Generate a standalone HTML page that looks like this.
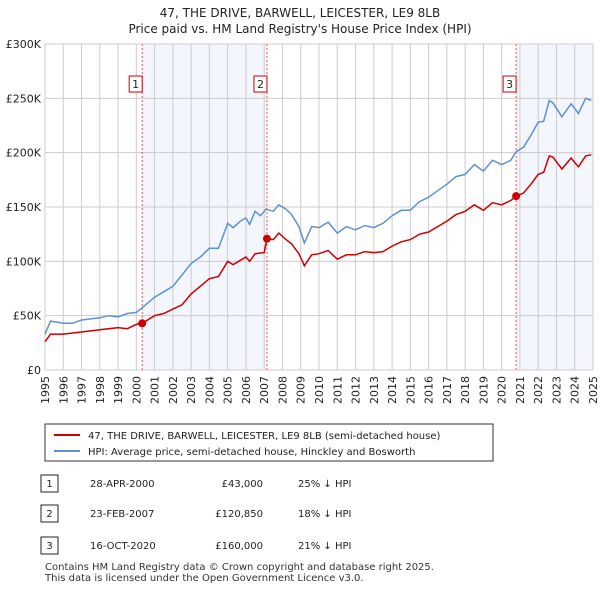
<!DOCTYPE html>
<html><head><meta charset="utf-8"><style>
body{margin:0;background:#fff;font-family:"Liberation Sans","DejaVu Sans",sans-serif;}
svg text{font-family:"DejaVu Sans","Liberation Sans",sans-serif;}
</style></head><body>
<svg id="c" width="600" height="590" viewBox="0 0 600 590" xmlns="http://www.w3.org/2000/svg">
<text x="300" y="17" text-anchor="middle" font-size="12" fill="#222">47, THE DRIVE, BARWELL, LEICESTER, LE9 8LB</text>
<text x="300" y="33" text-anchor="middle" font-size="12" fill="#222">Price paid vs. HM Land Registry's House Price Index (HPI)</text>
<g id="plot"></g>
<g>
<rect x="45" y="424" width="448" height="37" fill="#fff" stroke="#333" stroke-width="1"/>
<line x1="54" y1="435" x2="80" y2="435" stroke="#cc0000" stroke-width="2"/>
<text x="88" y="439" font-size="10" fill="#222">47, THE DRIVE, BARWELL, LEICESTER, LE9 8LB (semi-detached house)</text>
<line x1="54" y1="451" x2="80" y2="451" stroke="#6090d0" stroke-width="2"/>
<text x="88" y="455" font-size="10" fill="#222">HPI: Average price, semi-detached house, Hinckley and Bosworth</text>
</g>
<g font-size="10" fill="#222">
<rect x="41" y="475" width="17" height="17" fill="#fff" stroke="#222"/><text x="49.5" y="487" text-anchor="middle">1</text>
<text x="90" y="487">28-APR-2000</text><text x="263" y="487" text-anchor="end">£43,000</text><text x="298" y="487">25% ↓ HPI</text>
<rect x="41" y="505" width="17" height="17" fill="#fff" stroke="#222"/><text x="49.5" y="517" text-anchor="middle">2</text>
<text x="90" y="517">23-FEB-2007</text><text x="263" y="517" text-anchor="end">£120,850</text><text x="298" y="517">18% ↓ HPI</text>
<rect x="41" y="537" width="17" height="17" fill="#fff" stroke="#222"/><text x="49.5" y="549" text-anchor="middle">3</text>
<text x="90" y="549">16-OCT-2020</text><text x="263" y="549" text-anchor="end">£160,000</text><text x="298" y="549">21% ↓ HPI</text>
</g>
<text x="45" y="570" font-size="10" fill="#333">Contains HM Land Registry data © Crown copyright and database right 2025.</text>
<text x="45" y="581" font-size="10" fill="#333">This data is licensed under the Open Government Licence v3.0.</text>
</svg>
<script>
const yTicks=[0,50,100,150,200,250,300];
const yTickLabels=["£0","£50K","£100K","£150K","£200K","£250K","£300K"];
const years=[1995,1996,1997,1998,1999,2000,2001,2002,2003,2004,2005,2006,2007,2008,2009,2010,2011,2012,2013,2014,2015,2016,2017,2018,2019,2020,2021,2022,2023,2024,2025];
const hpiT=[1995,1995.3,1996,1996.5,1997,1998,1998.5,1999,1999.5,2000,2000.3,2001,2002,2003,2003.5,2004,2004.5,2005,2005.3,2005.7,2006,2006.2,2006.5,2006.8,2007.1,2007.5,2007.8,2008.2,2008.5,2008.9,2009.2,2009.6,2010,2010.5,2011,2011.5,2012,2012.5,2013,2013.5,2014,2014.5,2015,2015.5,2016,2016.5,2017,2017.5,2018,2018.5,2019,2019.5,2020,2020.5,2020.8,2021.2,2021.6,2022,2022.3,2022.6,2022.8,2023.3,2023.8,2024.2,2024.6,2024.9];
const hpiV=[33,45,43,43,46,48,50,49,52,53,57,67,77,98,104,112,112,135,131,137,140,134,146,142,148,146,152,148,143,132,117,132,131,136,126,132,129,133,131,135,142,147,147,155,159,165,171,178,180,189,183,193,189,193,201,205,216,228,229,248,246,233,245,236,250,248];
const priceT=[1995,1995.3,1996,1997,1998,1999,1999.5,2000,2000.32,2001,2001.5,2002,2002.5,2003,2003.5,2004,2004.5,2005,2005.3,2005.7,2006,2006.2,2006.5,2007.0,2007.15,2007.5,2007.8,2008.2,2008.5,2008.9,2009.2,2009.6,2010,2010.5,2011,2011.5,2012,2012.5,2013,2013.5,2014,2014.5,2015,2015.5,2016,2016.5,2017,2017.5,2018,2018.5,2019,2019.5,2020,2020.5,2020.8,2021.2,2021.6,2022,2022.3,2022.6,2022.8,2023.3,2023.8,2024.2,2024.6,2024.9];
const priceV=[26,33,33,35,37,39,38,42,43,50,52,56,60,70,77,84,86,100,97,101,104,100,107,108,120.85,120,126,120,116,107,96,106,107,110,102,106,106,109,108,109,114,118,120,125,127,132,137,143,146,152,147,154,152,156,160,163,171,180,182,197,196,185,195,187,197,198];
const saleT=[2000.32,2007.15,2020.79];
const saleV=[43,120.85,160];
const saleLabels=["1","2","3"];
const X0=45,X1=593,Y0=370,Y1=44;
const xs=t=>X0+(t-1995)/30*(X1-X0);
const ys=v=>Y0-v/300*(Y0-Y1);
const NS="http://www.w3.org/2000/svg";
const g=document.getElementById('plot');
function mk(tag,attrs,parent){const e=document.createElementNS(NS,tag);for(const k in attrs)e.setAttribute(k,attrs[k]);(parent||g).appendChild(e);return e;}
let e;
e=mk('rect',{x:xs(saleT[0]),y:Y1,width:xs(saleT[1])-xs(saleT[0]),height:Y0-Y1,fill:'#f3f6fd'});


e=mk('rect',{x:xs(saleT[2]),y:Y1,width:X1-xs(saleT[2]),height:Y0-Y1,fill:'#f3f6fd'});


years.forEach((y,i)=>{
 e=mk('line',{x1:xs(y),x2:xs(y),y1:Y1,y2:Y0,stroke:'#cccccc','stroke-width':1});
 
 
 const tx=xs(y)+4, ty=Y0+6;
 e=mk('text',{x:tx,y:ty,'font-size':11,fill:'#222','text-anchor':'end',transform:`rotate(-90 ${tx} ${ty})`});
 e.textContent=String(y);
 
 
});
yTicks.forEach((v,i)=>{
 e=mk('line',{x1:X0,x2:X1,y1:ys(v),y2:ys(v),stroke:'#cccccc','stroke-width':1});
 
 
 e=mk('text',{x:X0-4,y:ys(v)+4,'font-size':11,fill:'#222','text-anchor':'end'});
 e.textContent=yTickLabels[i];
 
 
});
e=mk('rect',{x:X0,y:Y1,width:X1-X0,height:Y0-Y1,fill:'none',stroke:'#cccccc'});


saleT.forEach((t,i)=>{
 e=mk('line',{x1:xs(t),x2:xs(t),y1:Y1,y2:Y0,stroke:'#ee5555','stroke-width':1,'stroke-dasharray':'2,2'});
 
 
 e=mk('rect',{x:xs(t)-13,y:76,width:13,height:16,fill:'#fff',stroke:'#cc0000'});
 
 
 e=mk('text',{x:xs(t)-6.5,y:88,'font-size':11,fill:'#222','text-anchor':'middle'});
 e.textContent=saleLabels[i];
 
 
});
e=mk('path',{d:hpiT.map((t,i)=>(i?'L':'M')+xs(t).toFixed(1)+','+ys(hpiV[i]).toFixed(1)).join(''),fill:'none',stroke:'#6090d0','stroke-width':1.5});


e=mk('path',{d:priceT.map((t,i)=>(i?'L':'M')+xs(t).toFixed(1)+','+ys(priceV[i]).toFixed(1)).join(''),fill:'none',stroke:'#cc0000','stroke-width':1.5});


saleT.forEach((t,i)=>{
 e=mk('circle',{cx:xs(t),cy:ys(saleV[i]),r:4,fill:'#cc0000'});
 
 
});
</script>
</body></html>
